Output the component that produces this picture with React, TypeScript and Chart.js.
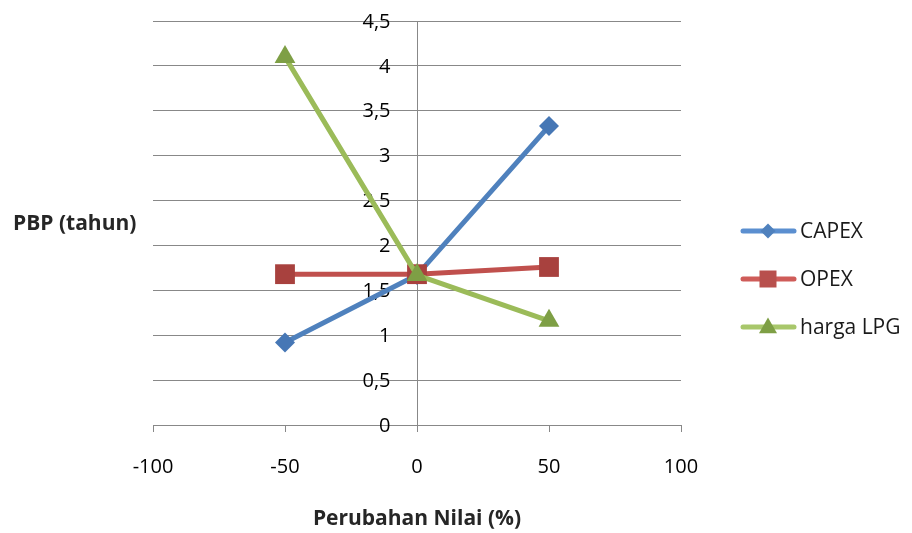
import React, { useEffect, useRef } from "react";
import { Chart, registerables } from "chart.js";

Chart.register(...registerables);

// Sensitivity of payback period (PBP) to changes in each parameter
const changePct = [-50, 0, 50];
const capexPbp = [0.92, 1.67, 3.33];
const opexPbp = [1.68, 1.68, 1.76];
const lpgPricePbp = [4.1, 1.67, 1.16];
const seriesNames = ["CAPEX", "OPEX", "harga LPG"];

const xTickValues = [-100, -50, 0, 50, 100];
const yTickValues = [0, 0.5, 1, 1.5, 2, 2.5, 3, 3.5, 4, 4.5];

const xTitle = "Perubahan Nilai (%)";
const yTitle = "PBP (tahun)";

const FONT = "'Open Sans', 'Noto Sans', sans-serif";
const AXIS_GREY = "#888888";

type Marker = "diamond" | "square" | "triangle";

function toPoints(ys: number[]) {
  return ys.map((y, i) => ({ x: changePct[i], y }));
}

function formatDecimal(v: number) {
  return String(v).replace(".", ",");
}

function drawMarker(ctx: CanvasRenderingContext2D, kind: Marker, x: number, y: number, r: number) {
  ctx.beginPath();
  if (kind === "diamond") {
    ctx.moveTo(x, y - r);
    ctx.lineTo(x + r, y);
    ctx.lineTo(x, y + r);
    ctx.lineTo(x - r, y);
  } else if (kind === "square") {
    ctx.rect(x - r, y - r, 2 * r, 2 * r);
  } else {
    ctx.moveTo(x, y - r * 1.05);
    ctx.lineTo(x + r, y + r * 0.7);
    ctx.lineTo(x - r, y + r * 0.7);
  }
  ctx.closePath();
  ctx.fill();
}

const legendStyles = [
  { line: "#5B8FD0", marker: "#4F81BD", kind: "diamond" as Marker, r: 7.5 },
  { line: "#CF5C59", marker: "#B8504D", kind: "square" as Marker, r: 8.5 },
  { line: "#A8C76B", marker: "#7E9F45", kind: "triangle" as Marker, r: 9 },
];

// y axis drawn through x = 0, with its labels on the left of the line
const centerAxisPlugin = {
  id: "centerAxis",
  beforeDatasetsDraw(chart: any) {
    const { ctx, scales, chartArea } = chart;
    const x0 = Math.round(scales.x.getPixelForValue(0)) + 0.5;
    ctx.save();
    ctx.strokeStyle = AXIS_GREY;
    ctx.lineWidth = 1;
    ctx.beginPath();
    ctx.moveTo(x0, chartArea.top);
    ctx.lineTo(x0, chartArea.bottom);
    ctx.stroke();
    ctx.fillStyle = "#000";
    ctx.font = `20px ${FONT}`;
    ctx.textAlign = "right";
    ctx.textBaseline = "middle";
    yTickValues.forEach((v) => {
      ctx.fillText(formatDecimal(v), x0 - 27, scales.y.getPixelForValue(v) + 1);
    });
    ctx.restore();
  },
};

// Axis titles and the legend at the right
const annotationsPlugin = {
  id: "annotations",
  afterDraw(chart: any) {
    const { ctx, scales } = chart;
    ctx.save();
    ctx.fillStyle = "#262626";
    ctx.font = `bold 21px ${FONT}`;
    ctx.textBaseline = "middle";
    ctx.textAlign = "left";
    ctx.fillText(yTitle, 13, 224);
    ctx.textAlign = "center";
    ctx.fillText(xTitle, scales.x.getPixelForValue(0), 519);

    ctx.font = `21px ${FONT}`;
    ctx.textAlign = "left";
    chart.data.datasets.forEach((ds: any, i: number) => {
      const st = legendStyles[i];
      const cy = 231 + i * 48;
      ctx.strokeStyle = st.line;
      ctx.lineWidth = 5;
      ctx.lineCap = "round";
      ctx.beginPath();
      ctx.moveTo(743, cy);
      ctx.lineTo(794, cy);
      ctx.stroke();
      ctx.fillStyle = st.marker;
      drawMarker(ctx, st.kind, 768, cy, st.r);
      ctx.fillStyle = "#1a1a1a";
      ctx.fillText(ds.label, 800, cy + 1);
    });
    ctx.restore();
  },
};

export default function App() {
  const canvasRef = useRef<HTMLCanvasElement | null>(null);

  useEffect(() => {
    if (!canvasRef.current) return;
    Chart.defaults.font.family = FONT;

    const chart = new Chart(canvasRef.current, {
      type: "line",
      data: {
        datasets: [
          {
            label: seriesNames[0],
            data: toPoints(capexPbp),
            borderColor: "#4F81BD",
            backgroundColor: "#4F81BD",
            borderWidth: 5,
            pointStyle: "rectRot",
            pointRadius: 10,
            pointBorderWidth: 0,
            pointBackgroundColor: "#4677B5",
            order: 2,
          },
          {
            label: seriesNames[1],
            data: toPoints(opexPbp),
            borderColor: "#C0504D",
            backgroundColor: "#C0504D",
            borderWidth: 5,
            pointStyle: "rect",
            pointRadius: 14,
            pointBorderWidth: 0,
            pointBackgroundColor: "#A8413E",
            order: 1,
          },
          {
            label: seriesNames[2],
            data: toPoints(lpgPricePbp),
            borderColor: "#9BBB59",
            backgroundColor: "#9BBB59",
            borderWidth: 5,
            pointStyle: "triangle",
            pointRadius: 12,
            pointBorderWidth: 0,
            pointBackgroundColor: "#7E9F45",
            order: 0,
          },
        ],
      },
      options: {
        responsive: false,
        animation: false,
        events: [],
        layout: { padding: { left: 153, right: 231, top: 21, bottom: 31 } },
        plugins: {
          legend: { display: false },
          tooltip: { enabled: false },
          title: { display: false },
        },
        scales: {
          x: {
            type: "linear",
            min: -100,
            max: 100,
            afterBuildTicks: (s: any) => {
              s.ticks = xTickValues.map((v) => ({ value: v }));
            },
            ticks: {
              color: "#000",
              font: { size: 20 },
              padding: 23,
              maxRotation: 0,
              autoSkip: false,
              callback: (v: any) => String(v),
            },
            grid: {
              drawOnChartArea: false,
              drawTicks: true,
              tickLength: 7,
              color: AXIS_GREY,
              lineWidth: 1,
            },
            border: { display: true, color: AXIS_GREY, width: 1 },
          },
          y: {
            type: "linear",
            min: 0,
            max: 4.5,
            afterBuildTicks: (s: any) => {
              s.ticks = yTickValues.map((v) => ({ value: v }));
            },
            ticks: { display: false },
            grid: { color: AXIS_GREY, lineWidth: 1, drawTicks: false },
            border: { display: false },
          },
        },
      },
      plugins: [centerAxisPlugin, annotationsPlugin],
    });

    return () => chart.destroy();
  }, []);

  return (
    <div style={{ position: "absolute", left: 0, top: 0, width: 912, height: 533, background: "#fff" }}>
      <canvas ref={canvasRef} width={912} height={533} style={{ display: "block" }} />
    </div>
  );
}
